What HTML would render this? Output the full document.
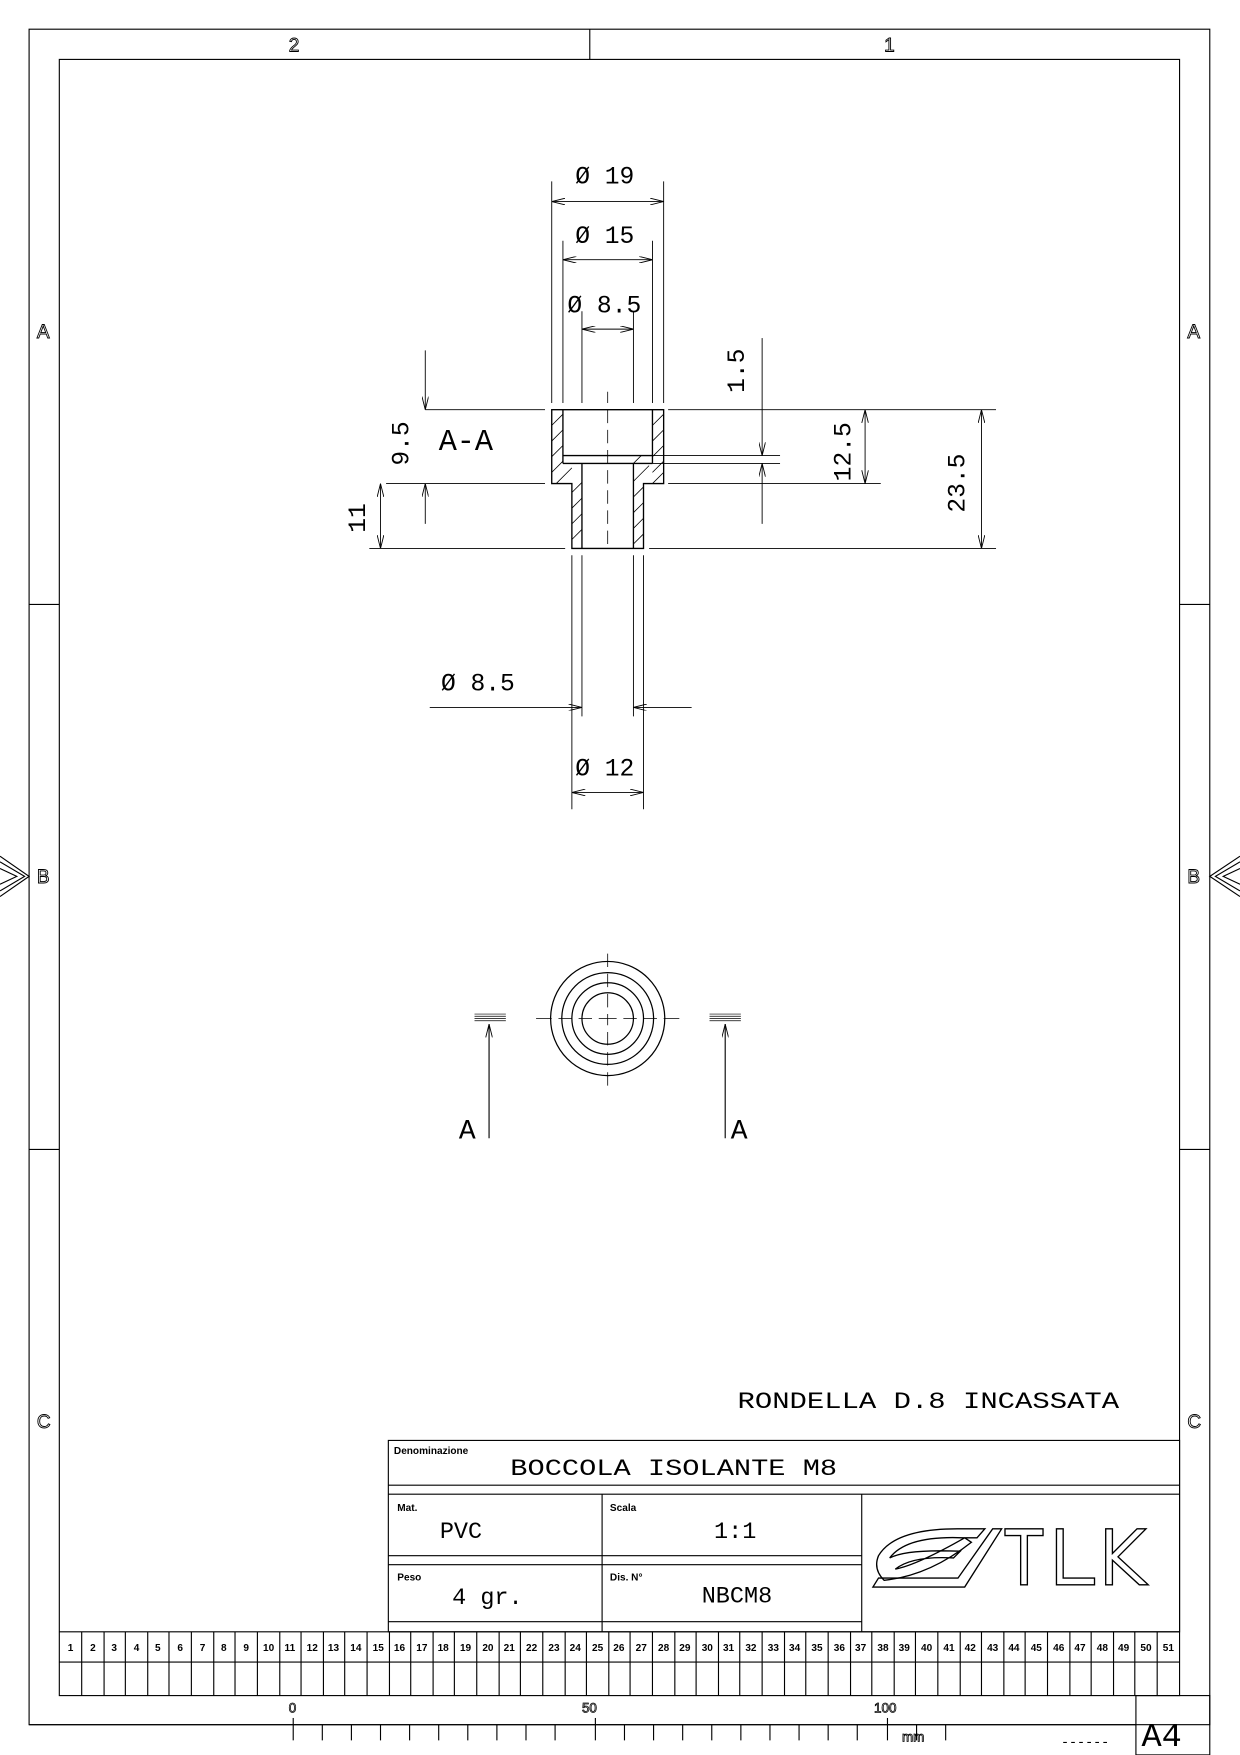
<!DOCTYPE html>
<html><head><meta charset="utf-8"><style>html,body{margin:0;padding:0;background:#fff}svg{display:block}</style></head><body>
<svg width="1240" height="1755" viewBox="0 0 1108 1568" xmlns="http://www.w3.org/2000/svg" font-family="Liberation Mono, monospace" fill="none" stroke="#000" stroke-width="1">
<defs><marker id="a" markerWidth="12" markerHeight="6" refX="12" refY="3" orient="auto-start-reverse" markerUnits="userSpaceOnUse"><path d="M0,0 L12,3 L0,6" fill="none" stroke="#000" stroke-width="0.8"/></marker></defs>
<rect x="26" y="26" width="1055" height="1515"/>
<rect x="53" y="53" width="1001" height="1462"/>
<line x1="527" y1="26" x2="527" y2="53"/>
<line x1="26" y1="540" x2="53" y2="540"/><line x1="26" y1="1027" x2="53" y2="1027"/>
<line x1="1054" y1="540" x2="1081" y2="540"/><line x1="1054" y1="1027" x2="1081" y2="1027"/>
<g fill="#fff" stroke="#000" stroke-width="0.8" font-family="Liberation Sans, sans-serif" font-size="17">
<text x="258" y="46">2</text><text x="790" y="46">1</text>
<text x="33" y="302">A</text><text x="33" y="789">B</text><text x="33" y="1276">C</text>
<text x="1061" y="302">A</text><text x="1061" y="789">B</text><text x="1061" y="1276">C</text>
</g>
<g stroke-width="1"><path d="M0,765 L26,783 L0,801"/><path d="M0,770 L22,783 L0,796"/><path d="M0,776 L15,783 L0,790"/>
<path d="M1108,765 L1081,783 L1108,801"/><path d="M1108,770 L1086,783 L1108,796"/><path d="M1108,776 L1093,783 L1108,790"/></g>
<line x1="26" y1="1541" x2="1015" y2="1541"/>
<rect x="1015" y="1515" width="66" height="53"/>
<text x="1020" y="1560" font-size="30" fill="#000" stroke="none">A4</text>
<g fill="#fff" stroke="#000" stroke-width="0.7" font-family="Liberation Sans, sans-serif" font-size="12">
<text x="258" y="1530">0</text><text x="520" y="1530">50</text><text x="781" y="1530">100</text><text x="806" y="1556">mm</text></g>
<line x1="262" y1="1535" x2="262" y2="1555"/><line x1="532" y1="1535" x2="532" y2="1555"/><line x1="793" y1="1535" x2="793" y2="1555"/>
<path d="M288,1541v14M314,1541v14M340,1541v14M366,1541v14M392,1541v14M418,1541v14M444,1541v14M470,1541v14M496,1541v14M558,1541v14M584,1541v14M610,1541v14M636,1541v14M662,1541v14M688,1541v14M714,1541v14M740,1541v14M766,1541v14M819,1541v14M845,1541v14"/>
<text x="948" y="1560" font-size="12" fill="#000" stroke="none">------</text>
<line x1="53" y1="1458" x2="1054" y2="1458"/><line x1="53" y1="1485" x2="1054" y2="1485"/>
<g font-family="Liberation Sans, sans-serif" font-size="9" font-weight="bold" fill="#000" stroke="none" text-anchor="middle">
<text x="63" y="1475">1</text><text x="83" y="1475">2</text><text x="102" y="1475">3</text><text x="122" y="1475">4</text><text x="141" y="1475">5</text><text x="161" y="1475">6</text><text x="181" y="1475">7</text><text x="200" y="1475">8</text><text x="220" y="1475">9</text><text x="240" y="1475">10</text><text x="259" y="1475">11</text><text x="279" y="1475">12</text><text x="298" y="1475">13</text><text x="318" y="1475">14</text><text x="338" y="1475">15</text><text x="357" y="1475">16</text><text x="377" y="1475">17</text><text x="396" y="1475">18</text><text x="416" y="1475">19</text><text x="436" y="1475">20</text><text x="455" y="1475">21</text><text x="475" y="1475">22</text><text x="495" y="1475">23</text><text x="514" y="1475">24</text><text x="534" y="1475">25</text><text x="553" y="1475">26</text><text x="573" y="1475">27</text><text x="593" y="1475">28</text><text x="612" y="1475">29</text><text x="632" y="1475">30</text><text x="651" y="1475">31</text><text x="671" y="1475">32</text><text x="691" y="1475">33</text><text x="710" y="1475">34</text><text x="730" y="1475">35</text><text x="750" y="1475">36</text><text x="769" y="1475">37</text><text x="789" y="1475">38</text><text x="808" y="1475">39</text><text x="828" y="1475">40</text><text x="848" y="1475">41</text><text x="867" y="1475">42</text><text x="887" y="1475">43</text><text x="906" y="1475">44</text><text x="926" y="1475">45</text><text x="946" y="1475">46</text><text x="965" y="1475">47</text><text x="985" y="1475">48</text><text x="1004" y="1475">49</text><text x="1024" y="1475">50</text><text x="1044" y="1475">51</text></g>
<path d="M73,1458v57M93,1458v57M112,1458v57M132,1458v57M151,1458v57M171,1458v57M191,1458v57M210,1458v57M230,1458v57M250,1458v57M269,1458v57M289,1458v57M308,1458v57M328,1458v57M348,1458v57M367,1458v57M387,1458v57M406,1458v57M426,1458v57M446,1458v57M465,1458v57M485,1458v57M505,1458v57M524,1458v57M544,1458v57M563,1458v57M583,1458v57M603,1458v57M622,1458v57M642,1458v57M661,1458v57M681,1458v57M701,1458v57M720,1458v57M740,1458v57M760,1458v57M779,1458v57M799,1458v57M818,1458v57M838,1458v57M858,1458v57M877,1458v57M897,1458v57M916,1458v57M936,1458v57M956,1458v57M975,1458v57M995,1458v57M1014,1458v57M1034,1458v57"/>
<rect x="347" y="1287" width="707" height="171"/>
<line x1="347" y1="1327" x2="1054" y2="1327"/><line x1="347" y1="1335" x2="1054" y2="1335"/>
<line x1="347" y1="1390" x2="770" y2="1390"/><line x1="347" y1="1398" x2="770" y2="1398"/>
<line x1="347" y1="1449" x2="770" y2="1449"/>
<line x1="538" y1="1335" x2="538" y2="1458"/><line x1="770" y1="1335" x2="770" y2="1458"/>
<g font-family="Liberation Sans, sans-serif" font-size="9" font-weight="bold" fill="#000" stroke="none">
<text x="352" y="1299">Denominazione</text><text x="355" y="1350">Mat.</text><text x="545" y="1350">Scala</text><text x="355" y="1412">Peso</text><text x="545" y="1412">Dis. N°</text></g>
<g font-size="21" fill="#000" stroke="none">
<text x="456" y="1318" textLength="292" lengthAdjust="spacingAndGlyphs">BOCCOLA ISOLANTE M8</text><text x="393" y="1374">PVC</text><text x="638" y="1374">1:1</text>
<text x="404" y="1433">4 gr.</text><text x="627" y="1432">NBCM8</text>
<text x="659" y="1258" textLength="341" lengthAdjust="spacingAndGlyphs">RONDELLA D.8 INCASSATA</text></g>
<g stroke-width="1.2"><path d="M785,1390 Q800,1365 860,1366 L880,1366 L873,1374 L860,1374 Q810,1372 795,1392 Q810,1384 858,1386 L852,1392 Q815,1390 800,1402 Q820,1398 862,1374 L868,1378 Q830,1408 790,1412 Q780,1402 785,1390Z"/>
<path d="M887,1366 L895,1366 L862,1418 L780,1418 L785,1410 L856,1410Z"/>
<path d="M898,1366h34v6h-14v44h-6v-44h-14z"/><path d="M944,1366h6v44h28v6h-34z"/>
<path d="M988,1366h6v22l22-22h8l-25,25l27,25h-8l-24-22v22h-6z"/></g>
<g stroke-width="1.2">
<path d="M493,366 H593 V432 H575 V490 H511 V432 H493 Z"/>
<line x1="503" y1="366" x2="503" y2="414"/><line x1="583" y1="366" x2="583" y2="414"/>
<line x1="503" y1="407" x2="583" y2="407"/><line x1="503" y1="414" x2="583" y2="414"/>
<line x1="520" y1="414" x2="520" y2="490"/><line x1="566" y1="414" x2="566" y2="490"/>
</g>
<g stroke-width="0.7">
<path d="M493,380 L503,370 M493,394 L503,384 M493,408 L503,398 M493,422 L503,412 M497,432 L511,418 M511,440 L520,431 M511,454 L520,445 M511,468 L520,459 M511,482 L520,473"/>
<path d="M583,380 L593,370 M583,394 L593,384 M583,408 L593,398 M583,422 L593,412 M566,430 L580,416 M583,432 L593,422 M566,444 L575,435 M566,458 L575,449 M566,472 L575,463 M566,486 L575,477 M566,414 L573,407"/>
<path d="M543,350 V360 M543,366 V378 M543,384 V396 M543,402 V414 M543,420 V432 M543,438 V450 M543,456 V468 M543,474 V486"/>
</g>
<g stroke-width="0.8">
<line x1="493" y1="162" x2="493" y2="360"/><line x1="593" y1="162" x2="593" y2="360"/>
<line x1="503" y1="215" x2="503" y2="360"/><line x1="583" y1="215" x2="583" y2="360"/>
<line x1="520" y1="278" x2="520" y2="360"/><line x1="566" y1="278" x2="566" y2="360"/>
<line x1="493" y1="180" x2="593" y2="180" marker-start="url(#a)" marker-end="url(#a)"/>
<line x1="503" y1="232" x2="583" y2="232" marker-start="url(#a)" marker-end="url(#a)"/>
<line x1="520" y1="294" x2="566" y2="294" marker-start="url(#a)" marker-end="url(#a)"/>
<line x1="597" y1="366" x2="890" y2="366"/><line x1="597" y1="432" x2="787" y2="432"/>
<line x1="583" y1="407" x2="697" y2="407"/><line x1="583" y1="414" x2="697" y2="414"/>
<line x1="580" y1="490" x2="890" y2="490"/>
<line x1="345" y1="432" x2="487" y2="432"/><line x1="330" y1="490" x2="505" y2="490"/>
<line x1="380" y1="366" x2="487" y2="366"/>
<line x1="380" y1="313" x2="380" y2="366" marker-end="url(#a)"/><line x1="380" y1="468" x2="380" y2="432" marker-end="url(#a)"/>
<line x1="340" y1="432" x2="340" y2="490" marker-start="url(#a)" marker-end="url(#a)"/>
<line x1="681" y1="302" x2="681" y2="407" marker-end="url(#a)"/><line x1="681" y1="468" x2="681" y2="414" marker-end="url(#a)"/>
<line x1="773" y1="366" x2="773" y2="432" marker-start="url(#a)" marker-end="url(#a)"/>
<line x1="877" y1="366" x2="877" y2="490" marker-start="url(#a)" marker-end="url(#a)"/>
<line x1="511" y1="496" x2="511" y2="723"/><line x1="575" y1="496" x2="575" y2="723"/>
<line x1="520" y1="496" x2="520" y2="640"/><line x1="566" y1="496" x2="566" y2="640"/>
<line x1="384" y1="632" x2="520" y2="632" marker-end="url(#a)"/><line x1="618" y1="632" x2="566" y2="632" marker-end="url(#a)"/>
<line x1="511" y1="708" x2="575" y2="708" marker-start="url(#a)" marker-end="url(#a)"/>
</g>
<g font-size="22" fill="#000" stroke="none">
<text x="514" y="164">Ø 19</text><text x="514" y="217">Ø 15</text><text x="507" y="279">Ø 8.5</text>
<text x="394" y="617">Ø 8.5</text><text x="514" y="693">Ø 12</text>
<text x="392" y="402" font-size="27">A-A</text>
<text transform="translate(365,416) rotate(-90)">9.5</text>
<text transform="translate(326,476) rotate(-90)">11</text>
<text transform="translate(665,351) rotate(-90)">1.5</text>
<text transform="translate(760,430) rotate(-90)">12.5</text>
<text transform="translate(862,458) rotate(-90)">23.5</text>
<text x="410" y="1017" font-size="25">A</text><text x="653" y="1017" font-size="25">A</text>
</g>
<g stroke-width="1.1">
<circle cx="543" cy="910" r="51"/><circle cx="543" cy="910" r="41"/><circle cx="543" cy="910" r="32"/><circle cx="543" cy="910" r="23"/>
</g>
<g stroke-width="0.7"><path d="M479,910 h14 M499,910 h12 M517,910 h12 M535,910 h16 M557,910 h12 M575,910 h12 M593,910 h14 M543,852 v12 M543,870 v12 M543,888 v12 M543,906 v10 M543,922 v12 M543,940 v12 M543,958 v12"/></g>
<g stroke-width="0.6"><path d="M424,906h28M424,908h28M424,910h28M424,912h28M634,906h28M634,908h28M634,910h28M634,912h28"/></g>
<g stroke-width="1"><line x1="437" y1="1017" x2="437" y2="915" marker-end="url(#a)"/><line x1="648" y1="1017" x2="648" y2="915" marker-end="url(#a)"/></g>
</svg>
</body></html>
